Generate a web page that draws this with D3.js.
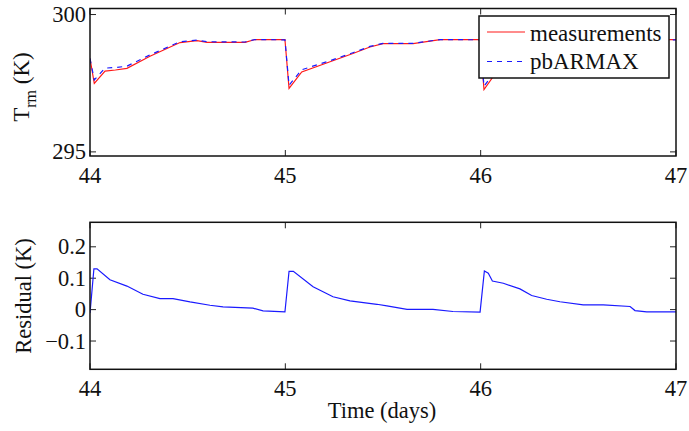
<!DOCTYPE html>
<html>
<head>
<meta charset="utf-8">
<script src="https://cdn.jsdelivr.net/npm/d3@7"></script>
<style>
  body { margin: 0; background: #fff; }
  svg text { font-family: "Liberation Serif", "Times New Roman", serif; fill: #111; }
</style>
</head>
<body>
<svg width="689" height="431"></svg>
<script>
// room temperature, days 44-47
var tempTime = [44.000, 44.022, 44.077, 44.130, 44.189, 44.307, 44.461, 44.548, 44.599, 44.794,
    44.845, 44.998, 45.019, 45.084, 45.229, 45.346, 45.433, 45.500, 45.654, 45.792,
    45.997, 46.017, 46.080, 46.230, 46.350, 46.450, 46.520, 46.660, 46.800, 47.000];
var measured = [298.40, 297.49, 297.94, 297.98, 298.04, 298.48, 298.98, 299.05, 298.99, 298.99,
    299.09, 299.09, 297.31, 297.91, 298.28, 298.58, 298.82, 298.94, 298.94, 299.09,
    299.09, 297.27, 297.90, 298.25, 298.56, 298.82, 298.95, 298.95, 299.09, 299.09];
var pbarmax = [298.40, 297.62, 298.05, 298.07, 298.12, 298.53, 299.01, 299.07, 299.01, 299.00,
    299.09, 299.08, 297.43, 297.99, 298.32, 298.61, 298.84, 298.95, 298.95, 299.09,
    299.08, 297.39, 297.99, 298.31, 298.59, 298.84, 298.96, 298.96, 299.09, 299.08];

// model residual
var resTime = [44.000, 44.020, 44.036, 44.102, 44.189, 44.271, 44.358, 44.425, 44.512, 44.614,
    44.681, 44.834, 44.886, 44.998, 45.019, 45.041, 45.142, 45.244, 45.331, 45.469,
    45.520, 45.623, 45.756, 45.858, 45.997, 46.019, 46.039, 46.060, 46.116, 46.201,
    46.261, 46.338, 46.406, 46.525, 46.628, 46.765, 46.790, 46.850, 47.000];
var residual = [-0.011, 0.130, 0.130, 0.095, 0.075, 0.049, 0.035, 0.035, 0.0245, 0.014,
    0.0086, 0.0045, -0.004, -0.007, 0.122, 0.122, 0.073, 0.041, 0.028, 0.017,
    0.012, 0.001, 0.001, -0.006, -0.008, 0.123, 0.116, 0.091, 0.084, 0.066,
    0.045, 0.033, 0.025, 0.015, 0.015, 0.010, -0.003, -0.007, -0.007];

var xTicks = [44, 45, 46, 47];
var tempTicks = [295, 300];
var resTicks = [-0.1, 0, 0.1, 0.2];

var svg = d3.select('svg');
var left = 90, right = 676;
var tickLen = 6;

var x = d3.scaleLinear().domain([44, 47]).range([left, right]);

function panel(id, top, bottom, yDomain, yTicks, yFmt) {
    var y = d3.scaleLinear().domain(yDomain).range([bottom, top]);
    var g = svg.append('g').attr('class', id);

    g.append('clipPath').attr('id', 'clip-' + id)
        .append('rect')
        .attr('x', left).attr('y', top)
        .attr('width', right - left).attr('height', bottom - top);

    // inward ticks on all four sides, matlab style
    var t = g.append('g').attr('stroke', '#222').attr('stroke-width', 1);
    xTicks.forEach(function (d) {
        t.append('line').attr('x1', x(d)).attr('x2', x(d)).attr('y1', bottom).attr('y2', bottom - tickLen);
        t.append('line').attr('x1', x(d)).attr('x2', x(d)).attr('y1', top).attr('y2', top + tickLen);
    });
    yTicks.forEach(function (d) {
        t.append('line').attr('x1', left).attr('x2', left + tickLen).attr('y1', y(d)).attr('y2', y(d));
        t.append('line').attr('x1', right).attr('x2', right - tickLen).attr('y1', y(d)).attr('y2', y(d));
    });

    g.selectAll('.xlab').data(xTicks).enter().append('text')
        .attr('x', function (d) { return x(d); })
        .attr('y', bottom + 27)
        .attr('text-anchor', 'middle')
        .style('font-size', '22.5px')
        .text(function (d) { return d; });

    g.selectAll('.ylab').data(yTicks).enter().append('text')
        .attr('x', left - 4)
        .attr('y', function (d) { return y(d) + 7.5; })
        .attr('text-anchor', 'end')
        .style('font-size', '22.5px')
        .text(yFmt);

    return {g: g, y: y, top: top, bottom: bottom};
}

function box(p) {
    p.g.append('rect')
        .attr('x', left).attr('y', p.top)
        .attr('width', right - left).attr('height', p.bottom - p.top)
        .attr('fill', 'none').attr('stroke', '#111').attr('stroke-width', 1.5);
}

// top panel: temperature
var p1 = panel('temp', 8.5, 156, [294.85, 300.22], tempTicks, function (d) { return d; });

var lineTemp = function (vals) {
    return d3.line()
        .x(function (d, i) { return x(tempTime[i]); })
        .y(function (d) { return p1.y(d); })(vals);
};

p1.g.append('path')
    .attr('d', lineTemp(measured))
    .attr('clip-path', 'url(#clip-temp)')
    .attr('fill', 'none').attr('stroke', '#ff1a1a').attr('stroke-width', 1.2);
p1.g.append('path')
    .attr('d', lineTemp(pbarmax))
    .attr('clip-path', 'url(#clip-temp)')
    .attr('fill', 'none').attr('stroke', '#1a1aff').attr('stroke-width', 1.2)
    .attr('stroke-dasharray', '5,5');
box(p1);

// legend
var leg = p1.g.append('g').attr('transform', 'translate(479,16)');
leg.append('rect').attr('width', 190).attr('height', 62)
    .attr('fill', '#fff').attr('stroke', '#111').attr('stroke-width', 1.5);
leg.append('line').attr('x1', 8).attr('x2', 46).attr('y1', 16).attr('y2', 16)
    .attr('stroke', '#ff1a1a').attr('stroke-width', 1.2);
leg.append('line').attr('x1', 8).attr('x2', 46).attr('y1', 45.5).attr('y2', 45.5)
    .attr('stroke', '#1a1aff').attr('stroke-width', 1.2).attr('stroke-dasharray', '5,5');
leg.append('text').attr('x', 51).attr('y', 24.5).style('font-size', '23px').text('measurements');
leg.append('text').attr('x', 51).attr('y', 52.5).style('font-size', '23px').text('pbARMAX');

svg.append('text')
    .attr('transform', 'translate(29,87) rotate(-90)')
    .attr('text-anchor', 'middle')
    .style('font-size', '23px')
    .html('T<tspan dy="7" style="font-size:16px">rm</tspan><tspan dy="-7"> (K)</tspan>');

// bottom panel: residual
var p2 = panel('res', 222.3, 369.3, [-0.19, 0.278], resTicks, function (d) {
    return d === 0 ? '0' : (d < 0 ? '\u2212' + Math.abs(d) : d);
});

p2.g.append('path')
    .datum(residual)
    .attr('d', d3.line()
        .x(function (d, i) { return x(resTime[i]); })
        .y(function (d) { return p2.y(d); }))
    .attr('clip-path', 'url(#clip-res)')
    .attr('fill', 'none').attr('stroke', '#1a1aff').attr('stroke-width', 1.2);
box(p2);

svg.append('text')
    .attr('transform', 'translate(31,296) rotate(-90)')
    .attr('text-anchor', 'middle')
    .style('font-size', '22.5px')
    .text('Residual (K)');

svg.append('text')
    .attr('x', x(45.5) - 1)
    .attr('y', 418)
    .attr('text-anchor', 'middle')
    .style('font-size', '22.5px')
    .text('Time (days)');
</script>
</body>
</html>
